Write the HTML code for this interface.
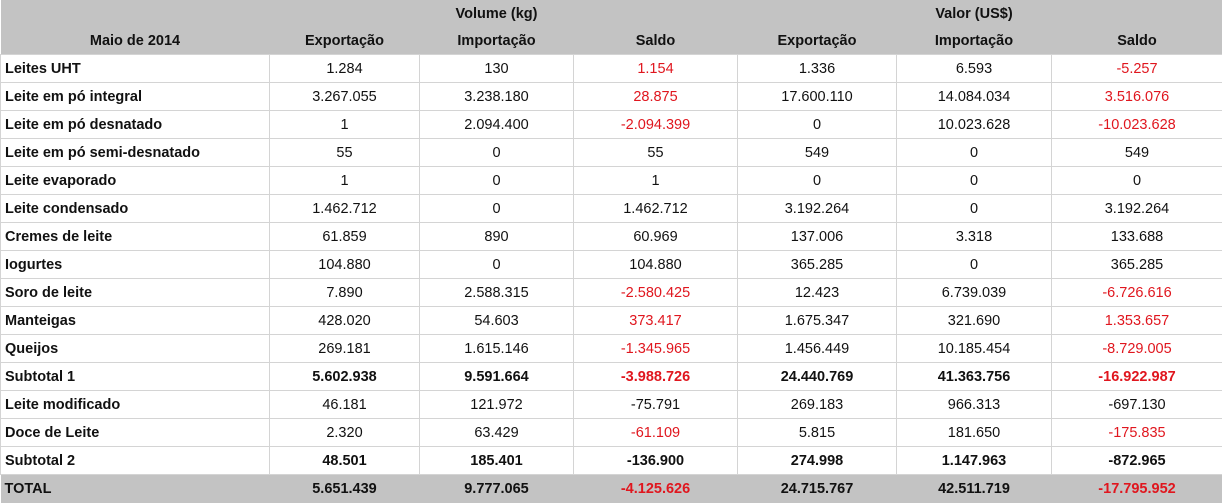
<!DOCTYPE html>
<html><head><meta charset="utf-8"><style>
body{margin:0;width:1222px;height:504px;overflow:hidden;background:#fff;font-family:"Liberation Sans",Arial,sans-serif;}
table{border-collapse:collapse;table-layout:fixed;width:1222px;position:absolute;left:0;top:0;}
td{height:27px;padding:0;font-size:14.5px;text-align:center;border:1px solid #d4d4d4;color:#111;white-space:nowrap;overflow:hidden;}
tr.h td{background:#c3c3c3;border:none;font-weight:bold;height:27px;}
td.l{text-align:left;padding-left:4px;font-weight:bold;}
.r{color:#e0161e;}
tr.b td{font-weight:bold;}
tr.t td{background:#c3c3c3;border:none;font-weight:bold;height:28px;}
</style></head><body>
<table>
<colgroup><col style="width:269px"><col style="width:150px"><col style="width:154px"><col style="width:164px"><col style="width:159px"><col style="width:155px"><col style="width:171px"></colgroup>
<tr class="h"><td></td><td></td><td>Volume (kg)</td><td></td><td></td><td>Valor (US$)</td><td></td></tr>
<tr class="h"><td>Maio de 2014</td><td>Exportação</td><td>Importação</td><td>Saldo</td><td>Exportação</td><td>Importação</td><td>Saldo</td></tr>
<tr><td class="l">Leites UHT</td><td>1.284</td><td>130</td><td class="r">1.154</td><td>1.336</td><td>6.593</td><td class="r">-5.257</td></tr>
<tr><td class="l">Leite em pó integral</td><td>3.267.055</td><td>3.238.180</td><td class="r">28.875</td><td>17.600.110</td><td>14.084.034</td><td class="r">3.516.076</td></tr>
<tr><td class="l">Leite em pó desnatado</td><td>1</td><td>2.094.400</td><td class="r">-2.094.399</td><td>0</td><td>10.023.628</td><td class="r">-10.023.628</td></tr>
<tr><td class="l">Leite em pó semi-desnatado</td><td>55</td><td>0</td><td>55</td><td>549</td><td>0</td><td>549</td></tr>
<tr><td class="l">Leite evaporado</td><td>1</td><td>0</td><td>1</td><td>0</td><td>0</td><td>0</td></tr>
<tr><td class="l">Leite condensado</td><td>1.462.712</td><td>0</td><td>1.462.712</td><td>3.192.264</td><td>0</td><td>3.192.264</td></tr>
<tr><td class="l">Cremes de leite</td><td>61.859</td><td>890</td><td>60.969</td><td>137.006</td><td>3.318</td><td>133.688</td></tr>
<tr><td class="l">Iogurtes</td><td>104.880</td><td>0</td><td>104.880</td><td>365.285</td><td>0</td><td>365.285</td></tr>
<tr><td class="l">Soro de leite</td><td>7.890</td><td>2.588.315</td><td class="r">-2.580.425</td><td>12.423</td><td>6.739.039</td><td class="r">-6.726.616</td></tr>
<tr><td class="l">Manteigas</td><td>428.020</td><td>54.603</td><td class="r">373.417</td><td>1.675.347</td><td>321.690</td><td class="r">1.353.657</td></tr>
<tr><td class="l">Queijos</td><td>269.181</td><td>1.615.146</td><td class="r">-1.345.965</td><td>1.456.449</td><td>10.185.454</td><td class="r">-8.729.005</td></tr>
<tr class="b"><td class="l">Subtotal 1</td><td>5.602.938</td><td>9.591.664</td><td class="r">-3.988.726</td><td>24.440.769</td><td>41.363.756</td><td class="r">-16.922.987</td></tr>
<tr><td class="l">Leite modificado</td><td>46.181</td><td>121.972</td><td>-75.791</td><td>269.183</td><td>966.313</td><td>-697.130</td></tr>
<tr><td class="l">Doce de Leite</td><td>2.320</td><td>63.429</td><td class="r">-61.109</td><td>5.815</td><td>181.650</td><td class="r">-175.835</td></tr>
<tr class="b"><td class="l">Subtotal 2</td><td>48.501</td><td>185.401</td><td>-136.900</td><td>274.998</td><td>1.147.963</td><td>-872.965</td></tr>
<tr class="t"><td class="l">TOTAL</td><td>5.651.439</td><td>9.777.065</td><td class="r">-4.125.626</td><td>24.715.767</td><td>42.511.719</td><td class="r">-17.795.952</td></tr>
</table>
</body></html>
